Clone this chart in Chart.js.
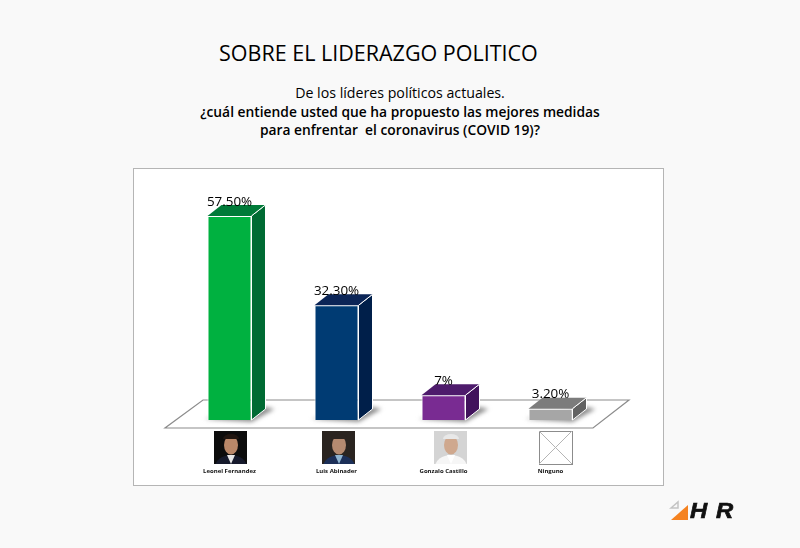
<!DOCTYPE html>
<html lang="es">
<head>
<meta charset="utf-8">
<title>Sobre el liderazgo politico</title>
<script src="https://cdn.jsdelivr.net/npm/chart.js@4/dist/chart.umd.min.js"></script>
<style>
  html, body { margin: 0; padding: 0; background: #f9f9f9; }
  body { width: 800px; height: 548px; position: relative; overflow: hidden; font-family: "Open Sans", sans-serif; color: #000; }
  .txt { position: absolute; white-space: pre; }
  #titulo { left: 219px; top: 38px; font-size: 21.5px; line-height: 30px; }
  .sub { left: 100px; width: 600px; text-align: center; font-size: 13.8px; line-height: 18px; }
  #panel { position: absolute; left: 133px; top: 168px; width: 529px; height: 316px; background: #fff; border: 1px solid #b5b5b5; }
  #grafico { position: absolute; left: 0; top: 0; }
  #marca { left: 690px; top: 498px; font: italic bold 22px/26px "Liberation Sans", sans-serif; letter-spacing: 1px; color: #111; -webkit-text-stroke: 0.7px #111; transform: scaleX(1.08); transform-origin: left center; }
</style>
</head>
<body>
<div id="panel"></div>
<div class="txt" id="titulo">SOBRE EL LIDERAZGO POLITICO</div>
<div class="txt sub" style="top:84px;font-size:14.2px">De los líderes políticos actuales.</div>
<div class="txt sub" style="top:103px;font-weight:600">¿cuál entiende usted que ha propuesto las mejores medidas</div>
<div class="txt sub" style="top:121px;font-weight:600">para enfrentar  el coronavirus (COVID 19)?</div>
<canvas id="grafico" width="800" height="548"></canvas>
<div class="txt" id="marca">H R</div>
<script>
// datos
const candidatos = ['Leonel Fernandez', 'Luis Abinader', 'Gonzalo Castillo', 'Ninguno'];
const valores = [57.5, 32.3, 7, 3.2];
const etiquetas = ['57.50%', '32.30%', '7%', '3.20%'];
const colorFrente = ['#00b140', '#003b73', '#792b92', '#a6a6a6'];
const colorLado = ['#006b33', '#001f4a', '#41125c', '#626262'];
const colorTecho = ['#007a38', '#0b2557', '#4e1b6c', '#7c7c7c'];
const fotoX = [214, 322, 434, 539];

const fondoX = 14, fondoY = 11; // profundidad del efecto 3D

function cara(ctx, puntos, relleno, borde, grueso) {
    ctx.beginPath();
    puntos.forEach((p, i) => i ? ctx.lineTo(p[0], p[1]) : ctx.moveTo(p[0], p[1]));
    ctx.closePath();
    ctx.fillStyle = relleno;
    ctx.fill();
    if (borde) {
        ctx.strokeStyle = borde;
        ctx.lineWidth = grueso || 1;
        ctx.stroke();
    }
}

// Retratos aproximados, son solo dibujos simples
function retrato(ctx, x, y, fondo, piel, pelo, traje, camisa) {
    const s = 33;
    ctx.save();
    ctx.beginPath();
    ctx.rect(x, y, s, s);
    ctx.clip();
    ctx.fillStyle = fondo;
    ctx.fillRect(x, y, s, s);
    ctx.fillStyle = traje;
    ctx.beginPath();
    ctx.ellipse(x + 17, y + 36, 16, 12, 0, 0, Math.PI * 2);
    ctx.fill();
    ctx.fillStyle = camisa;
    ctx.beginPath();
    ctx.moveTo(x + 13, y + 24);
    ctx.lineTo(x + 21, y + 24);
    ctx.lineTo(x + 17, y + 33);
    ctx.closePath();
    ctx.fill();
    ctx.fillStyle = piel;
    ctx.beginPath();
    ctx.ellipse(x + 17, y + 14, 7, 9.5, 0, 0, Math.PI * 2);
    ctx.fill();
    ctx.fillStyle = pelo;
    ctx.beginPath();
    ctx.ellipse(x + 17, y + 8, 8, 5, 0, Math.PI, Math.PI * 2);
    ctx.fill();
    ctx.restore();
}

const barras3d = {
    id: 'barras3d',
    beforeDatasetsDraw(chart) {
        const ctx = chart.ctx;
        const base = chart.scales.y.getPixelForValue(0);
        // piso
        cara(ctx, [[165, base + 8], [593, base + 8], [629, base - 20], [203, base - 20]], '#fff', '#8c8c8c', 1.2);
        // sombras sobre el piso
        ctx.save();
        ctx.filter = 'blur(2px)';
        chart.getDatasetMeta(0).data.forEach(bar => {
            const d = bar.x + bar.width / 2;
            cara(ctx, [[bar.x - bar.width / 2 - 3, base - 1], [d, base + 2], [d + 23, base - 11], [d + fondoX, base - 13]], '#8f8f8f');
        });
        ctx.restore();
    },
    afterDatasetsDraw(chart) {
        const ctx = chart.ctx;
        chart.getDatasetMeta(0).data.forEach((bar, i) => {
            const izq = bar.x - bar.width / 2, der = bar.x + bar.width / 2;
            cara(ctx, [[der, bar.y], [der + fondoX, bar.y - fondoY], [der + fondoX, bar.base - fondoY], [der, bar.base]], colorLado[i], '#fff');
            cara(ctx, [[izq, bar.y], [izq + fondoX, bar.y - fondoY], [der + fondoX, bar.y - fondoY], [der, bar.y]], colorTecho[i]);
            ctx.strokeStyle = '#fff';
            ctx.beginPath();
            ctx.moveTo(der, bar.y);
            ctx.lineTo(der + fondoX, bar.y - fondoY);
            ctx.stroke();
            // etiqueta del valor
            ctx.fillStyle = '#000';
            ctx.font = '13.4px "Open Sans", sans-serif';
            ctx.textAlign = 'center';
            ctx.textBaseline = 'middle';
            ctx.fillText(etiquetas[i], bar.x, bar.y - 14);
        });
    },
    afterDraw(chart) {
        const ctx = chart.ctx;
        const y = 431;
        retrato(ctx, fotoX[0], y, '#0c0c0c', '#b98768', '#201510', '#161a2c', '#e8e8e8');
        retrato(ctx, fotoX[1], y, '#2a2420', '#b58a70', '#2b2420', '#1c2f58', '#8fb4d0');
        retrato(ctx, fotoX[2], y, '#d4d4d4', '#cfa88e', '#e8e8e8', '#f6f6f6', '#ffffff');
        // Ninguno: recuadro vacio con una X
        ctx.strokeStyle = '#8c8c8c';
        ctx.lineWidth = 1;
        ctx.strokeRect(fotoX[3] + 0.5, y + 0.5, 33, 33);
        ctx.strokeStyle = '#b5b5b5';
        ctx.beginPath();
        ctx.moveTo(fotoX[3], y);
        ctx.lineTo(fotoX[3] + 33, y + 33);
        ctx.moveTo(fotoX[3] + 33, y);
        ctx.lineTo(fotoX[3], y + 33);
        ctx.stroke();
        // logo
        cara(ctx, [[671, 520], [688, 505], [688, 520]], '#f58220');
        ctx.strokeStyle = '#c4c4c4';
        ctx.lineWidth = 1.5;
        ctx.beginPath();
        ctx.moveTo(671, 508);
        ctx.lineTo(678, 502);
        ctx.lineTo(678, 508);
        ctx.closePath();
        ctx.stroke();
    }
};

new Chart(document.getElementById('grafico'), {
    type: 'bar',
    data: {
        labels: candidatos,
        datasets: [{
            data: valores,
            backgroundColor: colorFrente,
            borderColor: '#ffffff',
            borderWidth: 1,
            barPercentage: 44 / 107,
            categoryPercentage: 1
        }]
    },
    options: {
        responsive: false,
        animation: false,
        layout: { padding: { left: 176, right: 196, top: 207, bottom: 72 } },
        plugins: { legend: { display: false }, tooltip: { enabled: false } },
        scales: {
            y: { display: false, min: 0, max: 60 },
            x: {
                afterFit(scale) { scale.height = 56; },
                grid: { display: false, drawTicks: false },
                border: { display: false },
                ticks: {
                    padding: 48,
                    autoSkip: false,
                    maxRotation: 0,
                    color: '#111',
                    font: { family: '"Open Sans", sans-serif', size: 6, weight: 'bold' }
                }
            }
        }
    },
    plugins: [barras3d]
});
</script>
</body>
</html>
